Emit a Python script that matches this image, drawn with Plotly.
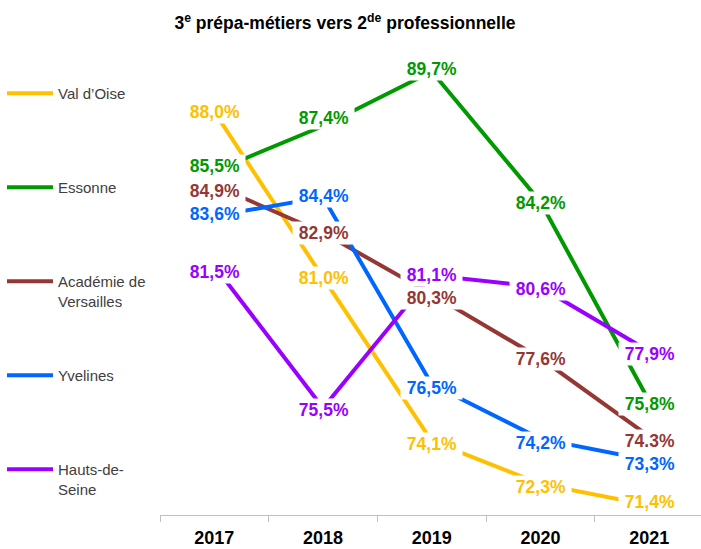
import plotly.graph_objects as go

years = ["2017", "2018", "2019", "2020", "2021"]
series_names = ["Val d’Oise", "Essonne", "Académie de<br>Versailles", "Yvelines", "Hauts-de-<br>Seine"]
val_doise = [88.0, 81.0, 74.1, 72.3, 71.4]
essonne = [85.5, 87.4, 89.7, 84.2, 75.8]
academie = [84.9, 82.9, 80.3, 77.6, 74.3]
yvelines = [83.6, 84.4, 76.5, 74.2, 73.3]
hauts_de_seine = [81.5, 75.5, 81.1, 80.6, 77.9]
colors = ["#FFC000", "#009900", "#953735", "#0066FF", "#9900FF"]

# label vertical nudges (px, positive = up), as placed in the original
label_shift = [
    [0, 0, -3, -3, 3],
    [5, 8, 3, -1, -3],
    [-6, 0, -4, -1, -5],
    [2, 1, -4, -4, -4],
    [-6, -2, 0, -2, -3],
]

all_values = [val_doise, essonne, academie, yvelines, hauts_de_seine]


def fmt(v):
    return f"{v:.1f}".replace(".", ",") + "%"


labels = [[fmt(v) for v in vals] for vals in all_values]
labels[2][4] = "74.3%"  # as printed in the original

FONT = "Liberation Sans, Arial, sans-serif"

fig = go.Figure()
for i, (name, vals, col) in enumerate(zip(series_names, all_values, colors)):
    legend_name = name if "<br>" in name else name + "<br>\u00a0"
    fig.add_trace(go.Scatter(
        x=years, y=vals, mode="lines", name=legend_name,
        line=dict(color=col, width=4), legendgroup=f"g{i}",
        hoverinfo="skip",
    ))

annotations = []
for vals, labs, col, shifts in zip(all_values, labels, colors, label_shift):
    for xi, (v, t, s) in enumerate(zip(vals, labs, shifts)):
        annotations.append(dict(
            x=xi, y=v, xref="x", yref="y", text="\u00a0" + t + "\u00a0",
            showarrow=False,
            font=dict(family=FONT, size=17.5, color=col, weight="bold"),
            bgcolor="white", borderpad=1, yshift=s,
        ))

fig.update_layout(
    width=701, height=549,
    margin=dict(l=160, r=0, t=40, b=34, autoexpand=False),
    paper_bgcolor="white", plot_bgcolor="white",
    font=dict(family=FONT),
    title=dict(
        text="3<sup>e</sup> prépa-métiers vers 2<sup>de</sup> professionnelle",
        font=dict(family=FONT, size=17.5, color="black", weight="bold"),
        x=345 / 701, xref="container", xanchor="center",
        y=1 - 23 / 549, yref="container", yanchor="middle",
    ),
    xaxis=dict(
        type="category", categoryorder="array", categoryarray=years,
        range=[-0.5, 4.477], showgrid=False, zeroline=False,
        showline=True, linecolor="#BFBFBF", linewidth=1,
        ticks="outside", tickson="boundaries", ticklen=6, tickcolor="#BFBFBF",
        tickfont=dict(family=FONT, size=18, color="black", weight="bold"),
        ticklabelstandoff=6, automargin=False,
    ),
    yaxis=dict(range=[70.987, 91.03], visible=False, fixedrange=True,
               automargin=False),
    legend=dict(
        x=2 / 701, xref="container", xanchor="left",
        y=1 - 77 / 549, yref="container", yanchor="top",
        tracegroupgap=52, valign="top", itemwidth=46, maxheight=549,
        font=dict(family=FONT, size=15, color="#404040"),
        bgcolor="rgba(0,0,0,0)",
    ),
    annotations=annotations,
    showlegend=True,
)

fig.write_html(
    "out.html",
    config={"displayModeBar": False, "staticPlot": True},
    post_script="document.body.style.margin='0';document.body.style.overflow='hidden';",
)
